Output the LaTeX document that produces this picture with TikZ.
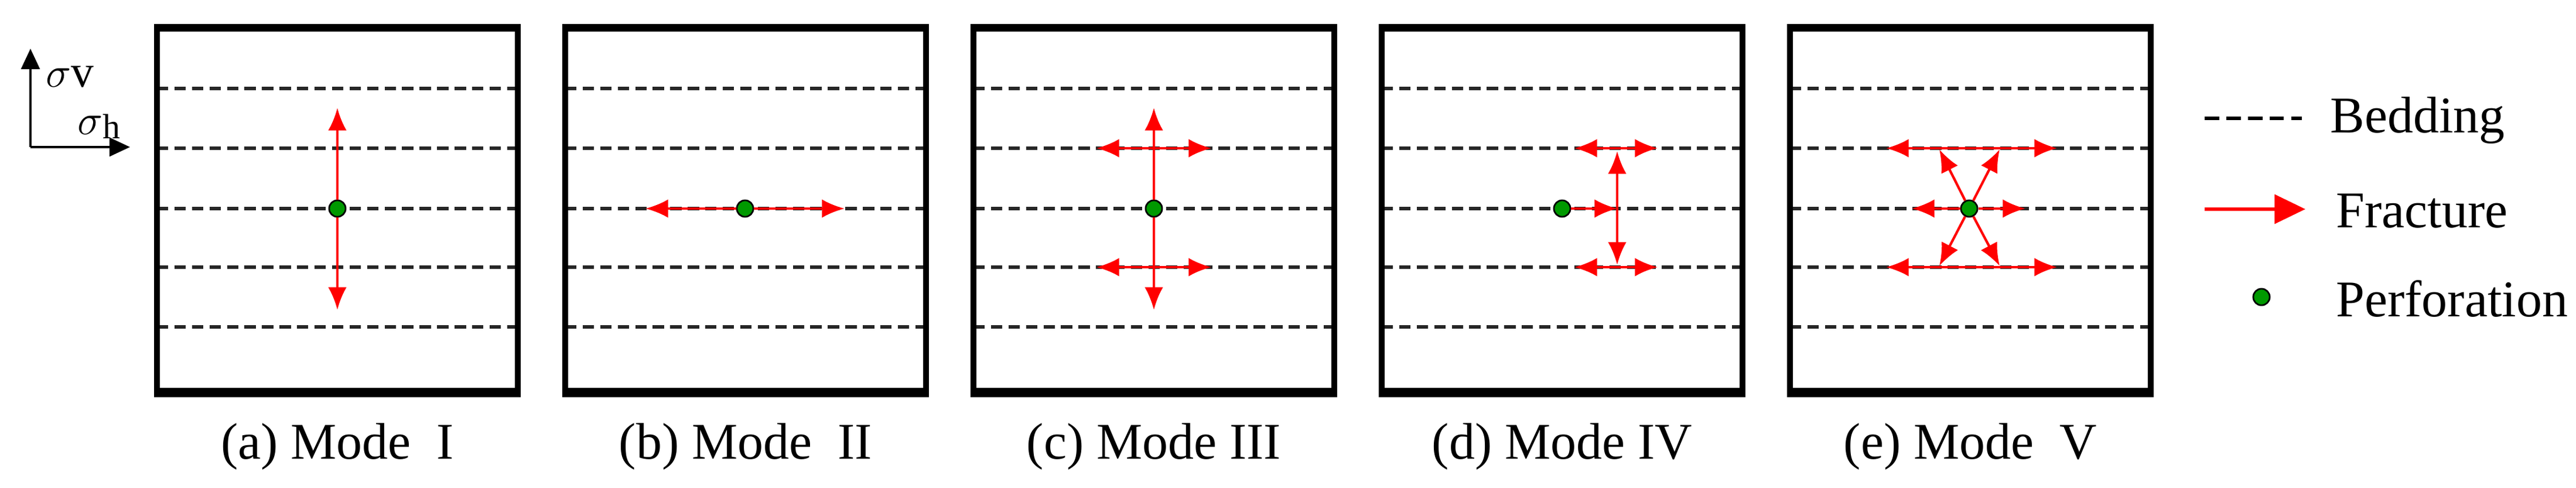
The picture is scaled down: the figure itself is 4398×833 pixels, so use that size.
\documentclass[tikz,border=0pt]{standalone}
\usepackage{fontspec}
\setmainfont{Liberation Serif}
\usetikzlibrary{arrows.meta}
\begin{document}
\begin{tikzpicture}[x=0.01cm,y=-0.01cm,
  frame/.style={line width=3pt,black},
  bed/.style={line width=1.5pt,black!85,dash pattern=on 5.5pt off 3pt},
  frac/.style={red,line width=1.2pt,arrows={-Latex[length=11pt,width=9pt]}},
  fracb/.style={red,line width=1.2pt,arrows={Latex[length=11pt,width=9pt]-Latex[length=11pt,width=9pt]}},
  perf/.style={circle,draw=black,fill=green!60!black,line width=0.8pt,minimum size=8pt,inner sep=0pt},
  lab/.style={font=\fontsize{25}{28}\selectfont},
  leg/.style={font=\fontsize{25}{28}\selectfont,anchor=west}]
\useasboundingbox (0,0) rectangle (4398,833);
% axes
\coordinate (o) at (52,251);
\coordinate (ov) at (52,83);
\coordinate (oh) at (222,251);
\draw[line width=1.2pt,-{Triangle[length=10pt,width=9pt]}] (o) -- (ov);
\draw[line width=1.2pt,-{Triangle[length=10pt,width=9pt]}] (o) -- (oh);
\node[lab,anchor=west,font=\fontsize{22}{24}\selectfont] (sv) at (66,131) {$\sigma$v};
\node[lab,anchor=west,font=\fontsize{22}{24}\selectfont] (sh) at (120,216) {$\sigma$\raisebox{-2pt}{\fontsize{17}{18}\selectfont h}};
% boxes
\foreach \i/\lbl in {0/(a) Mode\ \ I,1/(b) Mode\ \ II,2/(c) Mode\ III,3/(d) Mode\ IV,4/(e) Mode\ \ V}{
  \pgfmathsetmacro{\L}{268+697*\i}
  \pgfmathsetmacro{\R}{\L+616}
  \pgfmathsetmacro{\C}{\L+308}
  \foreach \yy in {151,253,356,456,558}{\draw[bed] (\L,\yy) -- (\R,\yy);}
  \draw[frame] (\L,46) rectangle (\R,670);
  \fill (\L-5,662) rectangle (\R+5,678);
  \fill (\L-5,42) rectangle (\R+5,54);
  \node[lab] (cap\i) at (\C,762) {\lbl};
}
% (a)
\node[perf] (pa) at (576,356) {};
\coordinate (pa1) at (576,184); \coordinate (pa2) at (576,529);
\draw[frac] (pa) -- (pa1); \draw[frac] (pa) -- (pa2);
% (b)
\node[perf] (pb) at (1272,356) {};
\coordinate (pb1) at (1102,356); \coordinate (pb2) at (1442,356);
\draw[frac] (pb) -- (pb1); \draw[frac] (pb) -- (pb2);
% (c)
\node[perf] (pc) at (1970,356) {};
\coordinate (pc1) at (1970,184); \coordinate (pc2) at (1970,529);
\draw[frac] (pc) -- (pc1); \draw[frac] (pc) -- (pc2);
\coordinate (c1l) at (1872,253); \coordinate (c1r) at (2068,253);
\coordinate (c2l) at (1872,456); \coordinate (c2r) at (2068,456);
\draw[fracb] (c1l) -- (c1r); \draw[fracb] (c2l) -- (c2r);
% (d)
\node[perf] (pd) at (2667,356) {};
\coordinate (dm) at (2761,356);
\coordinate (dt) at (2761,258); \coordinate (db) at (2761,452);
\draw[frac] (pd) -- (dm);
\draw[fracb] (dt) -- (db);
\coordinate (d1l) at (2688,253); \coordinate (d1r) at (2830,253);
\coordinate (d2l) at (2688,456); \coordinate (d2r) at (2830,456);
\draw[fracb] (d1l) -- (d1r); \draw[fracb] (d2l) -- (d2r);
% (e)
\node[perf] (pe) at (3362,356) {};
\coordinate (e1l) at (3220,253); \coordinate (e1r) at (3512,253);
\coordinate (e2l) at (3220,456); \coordinate (e2r) at (3512,456);
\draw[fracb] (e1l) -- (e1r); \draw[fracb] (e2l) -- (e2r);
\coordinate (eml) at (3264,356); \coordinate (emr) at (3458,356);
\draw[frac] (pe) -- (eml); \draw[frac] (pe) -- (emr);
\coordinate (ea) at (3311,255); \coordinate (eb) at (3414,255);
\coordinate (ec) at (3311,454); \coordinate (ed) at (3414,454);
\draw[frac] (pe) -- (ea); \draw[frac] (pe) -- (eb);
\draw[frac] (pe) -- (ec); \draw[frac] (pe) -- (ed);
% legend
\coordinate (lb1) at (3764,202); \coordinate (lb2) at (3930,202);
\draw[line width=1.8pt,dash pattern=on 7pt off 3.5pt] (lb1) -- (lb2);
\node[leg] (tb) at (3966,205) {Bedding};
\coordinate (lf1) at (3764,357); \coordinate (lf2) at (3936,357);
\draw[red,line width=1.8pt,-{Triangle[length=15pt,width=14pt]}] (lf1) -- (lf2);
\node[leg] (tf) at (3976,360) {Fracture};
\node[perf] (lp) at (3861,507) {};
\node[leg] (tp) at (3976,510) {Perforation};
\end{tikzpicture}
\end{document}
